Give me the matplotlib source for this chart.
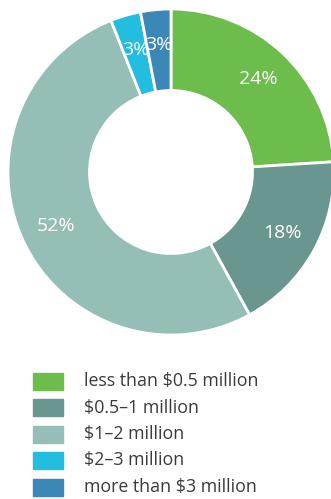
import matplotlib.pyplot as plt
from matplotlib.patches import Rectangle

plt.rcParams['font.family'] = ['Open Sans', 'DejaVu Sans']

labels = ['less than $0.5 million', '$0.5\u20131 million', '$1\u20132 million',
          '$2\u20133 million', 'more than $3 million']
shares = [24, 18, 52, 3, 3]
colors = ['#6cbd4c', '#6a9690', '#95bfb6', '#22bddf', '#3a87b8']

W, H = 331, 499
fig = plt.figure(figsize=(W / 100, H / 100), dpi=100)

# donut: center (171, 172) px, outer radius 163 px
cx, cy, R = 171, 172, 163
ax = fig.add_axes([(cx - R) / W, (H - cy - R) / H, 2 * R / W, 2 * R / H])
wedges, texts = ax.pie(shares, colors=colors, startangle=90, counterclock=False,
                       radius=1, labels=[f'{s}%' for s in shares], labeldistance=0.78,
                       wedgeprops=dict(width=0.5, edgecolor='white', linewidth=2),
                       textprops=dict(color='white', fontsize=14))
for t in texts:
    t.set_ha('center')
    t.set_va('center')
ax.set_xlim(-1, 1)
ax.set_ylim(-1, 1)
ax.set_aspect('equal')
ax.axis('off')

# legend drawn in pixel coordinates
lg = fig.add_axes([0, 0, 1, 1])
lg.set_xlim(0, W)
lg.set_ylim(H, 0)
lg.axis('off')
lg.patch.set_alpha(0)
for i, (lab, col) in enumerate(zip(labels, colors)):
    y = 381 + i * 26.5
    lg.add_patch(Rectangle((33, y - 8.5), 30, 17, color=col))
    lg.text(84, y, lab, va='center', ha='left', fontsize=12.8, color='#3a3a3a')

fig.savefig('out.png', dpi=100)
